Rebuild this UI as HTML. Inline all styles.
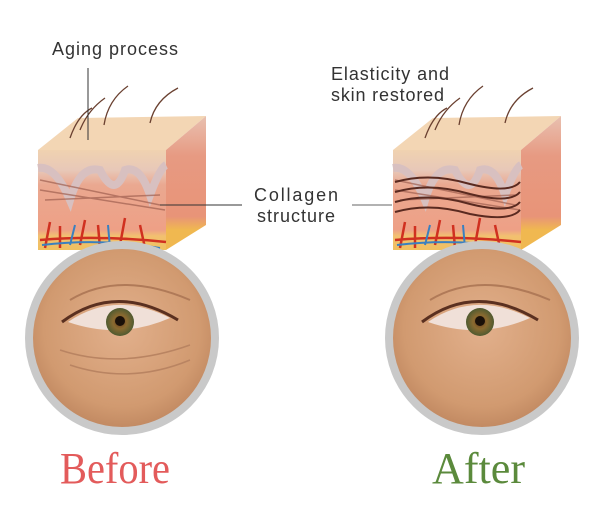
<!DOCTYPE html>
<html><head><style>
body{margin:0;background:#fff;width:600px;height:503px;overflow:hidden;font-family:"Liberation Sans",sans-serif}
</style></head><body>
<svg width="600" height="503" viewBox="0 0 600 503" xmlns="http://www.w3.org/2000/svg">
<defs>
<radialGradient id="skin" cx="50%" cy="45%" r="60%">
<stop offset="0" stop-color="#e2b08c"/><stop offset="0.7" stop-color="#d19a70"/><stop offset="1" stop-color="#b9805a"/>
</radialGradient>
<radialGradient id="iris" cx="50%" cy="50%" r="50%">
<stop offset="0" stop-color="#6a3a1a"/><stop offset="0.5" stop-color="#8a6a30"/><stop offset="1" stop-color="#4f5a30"/>
</radialGradient>
<linearGradient id="front" x1="0" y1="0" x2="0" y2="1">
<stop offset="0" stop-color="#f0d2b0"/><stop offset="0.2" stop-color="#e8c8b8"/><stop offset="0.35" stop-color="#eaa890"/><stop offset="0.8" stop-color="#eea086"/><stop offset="0.86" stop-color="#f2c070"/><stop offset="1" stop-color="#f0c060"/>
</linearGradient>
<linearGradient id="side" x1="0" y1="0" x2="0" y2="1">
<stop offset="0" stop-color="#e8c0b0"/><stop offset="0.3" stop-color="#e79a82"/><stop offset="0.75" stop-color="#e89478"/><stop offset="0.85" stop-color="#f0b850"/><stop offset="1" stop-color="#f0b850"/>
</linearGradient>
</defs>

<g id="block">
<polygon points="38,150 78,118 206,116 166,150" fill="#f3d6b4"/>
<polygon points="38,150 166,150 166,250 38,250" fill="url(#front)"/>
<polygon points="166,150 206,116 206,225 166,250" fill="url(#side)"/>
<path d="M38,168 Q55,165 70,200 Q80,165 100,170 Q115,200 125,170 Q140,165 150,195 Q160,168 166,165" stroke="#d8c0c0" stroke-width="8" fill="none"/>
<path d="M40,180 L160,205 M45,200 L160,195 M40,190 L165,210" stroke="#a06050" stroke-width="1.5" fill="none" opacity="0.7"/>
<path d="M45,248 L50,222 M60,248 L60,226 M80,245 L85,220 M100,248 L98,225 M120,245 L125,218 M145,248 L140,225 M40,240 Q100,235 166,242" stroke="#d03020" stroke-width="2.5" fill="none"/>
<path d="M42,245 Q100,238 160,248 M70,245 L75,225 M110,248 L108,225" stroke="#3a80c0" stroke-width="2" fill="none"/>
<path d="M80,130 Q88,110 105,98 M104,125 Q108,100 128,86 M150,123 Q155,100 178,88 M70,138 Q78,115 92,108" stroke="#6a4030" stroke-width="1.3" fill="none"/>
</g>

<use href="#block" x="355" y="0"/>
<path d="M395,182 Q430,172 470,184 Q510,194 520,182 M395,192 Q430,182 470,194 Q510,204 520,192 M395,202 Q430,192 470,204 Q510,214 520,202 M395,212 Q430,202 470,214 Q510,222 520,210" stroke="#5a2a20" stroke-width="2" fill="none"/>

<line x1="88" y1="68" x2="88" y2="140" stroke="#333" stroke-width="1"/>
<line x1="160" y1="205" x2="242" y2="205" stroke="#333" stroke-width="1"/>
<line x1="352" y1="205" x2="392" y2="205" stroke="#999" stroke-width="1.5"/>

<text x="52" y="55" font-family="Liberation Sans,sans-serif" font-size="18" fill="#333" textLength="126">Aging process</text>
<text x="331" y="80" font-family="Liberation Sans,sans-serif" font-size="18" fill="#333" textLength="118">Elasticity and</text>
<text x="331" y="101" font-family="Liberation Sans,sans-serif" font-size="18" fill="#333" textLength="113">skin restored</text>
<text x="254" y="201" font-family="Liberation Sans,sans-serif" font-size="18" fill="#333" textLength="84">Collagen</text>
<text x="257" y="222" font-family="Liberation Sans,sans-serif" font-size="18" fill="#333" textLength="78">structure</text>

<g id="eye">
<circle cx="122" cy="338" r="93" fill="url(#skin)" stroke="#c9c9c9" stroke-width="8"/>
<path d="M68,322 Q115,290 170,318 Q120,340 68,322Z" fill="#f0e0d8"/>
<circle cx="120" cy="322" r="14" fill="url(#iris)"/>
<circle cx="120" cy="321" r="5" fill="#1a1008"/>
<path d="M62,322 Q115,282 178,320" stroke="#5a3020" stroke-width="3" fill="none"/>
<path d="M70,300 Q120,270 190,300" stroke="#b07a58" stroke-width="2" fill="none"/>
</g>
<use href="#eye" x="360"/>
<path d="M60,350 Q120,370 190,345 M70,365 Q130,385 190,360" stroke="#b98462" stroke-width="1.5" fill="none"/>

<text x="60" y="483" font-family="Liberation Serif,serif" font-size="44" fill="#e35b5b" textLength="110" lengthAdjust="spacingAndGlyphs">Before</text>
<text x="432" y="483" font-family="Liberation Serif,serif" font-size="44" fill="#5b8a3c" textLength="93" lengthAdjust="spacingAndGlyphs">After</text>
</svg>
</body></html>
